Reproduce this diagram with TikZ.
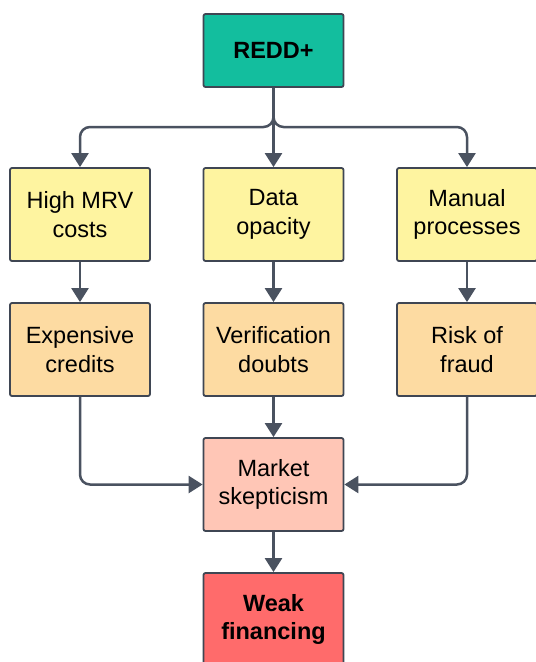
\documentclass[tikz,border=0pt]{standalone}
\usepackage{fontspec}
\setmainfont{Liberation Sans}
\usetikzlibrary{arrows.meta}
\definecolor{tealbox}{HTML}{13BE9E}
\definecolor{yellowbox}{HTML}{FEF4A0}
\definecolor{orangebox}{HTML}{FDDBA2}
\definecolor{pinkbox}{HTML}{FFC6B6}
\definecolor{redbox}{HTML}{FF6B6B}
\definecolor{edgegray}{HTML}{3F4653}
\definecolor{linkgray}{HTML}{4A5260}
\tikzset{
  box/.style={draw=edgegray, line width=1.8pt, rounded corners=2pt,
    minimum width=140pt, minimum height=93pt, align=center, inner sep=0pt,
    font=\fontsize{23.5}{28.5}\selectfont},
  topbox/.style={box, fill=tealbox, minimum height=73pt, font=\fontsize{23.5}{28.5}\selectfont\bfseries},
  causebox/.style={box, fill=yellowbox},
  effectbox/.style={box, fill=orangebox},
  marketbox/.style={box, fill=pinkbox},
  endbox/.style={box, fill=redbox, font=\fontsize{23.5}{28.5}\selectfont\bfseries},
  link/.style={draw=linkgray, line width=2.5pt, rounded corners=10pt,
    -{Triangle[width=17pt,length=14pt]}}
}
\begin{document}
\begin{tikzpicture}[x=1pt,y=-1pt]
\useasboundingbox (0,0) rectangle (536,662);
\node[topbox] (redd) at (273.5,50.5) {REDD+};
\node[causebox] (mrv) at (80,214.5) {High MRV\\costs};
\node[causebox] (data) at (273.5,214.5) {Data\\opacity};
\node[causebox] (manual) at (467,214.5) {Manual\\processes};
\node[effectbox] (credits) at (80,349.5) {Expensive\\credits};
\node[effectbox] (verif) at (273.5,349.5) {Verification\\doubts};
\node[effectbox] (fraud) at (467,349.5) {Risk of\\fraud};
\node[marketbox] (market) at (273.5,484.5) {Market\\skepticism};
\node[endbox] (weak) at (273.5,619.5) {Weak\\financing};

\coordinate (split) at (273.5,127);
\draw[link] (redd.south) -- (split) -| (mrv.north);
\draw[link] (redd.south) -- (split) -| (manual.north);
\draw[link] (redd.south) -- (data.north);

\draw[link] (mrv) -- (credits);
\draw[link] (data) -- (verif);
\draw[link] (manual) -- (fraud);

\draw[link] (credits.south) |- (market.west);
\draw[link] (fraud.south) |- (market.east);
\draw[link] (verif.south) -- (market.north);
\draw[link] (market) -- (weak);
\end{tikzpicture}
\end{document}
